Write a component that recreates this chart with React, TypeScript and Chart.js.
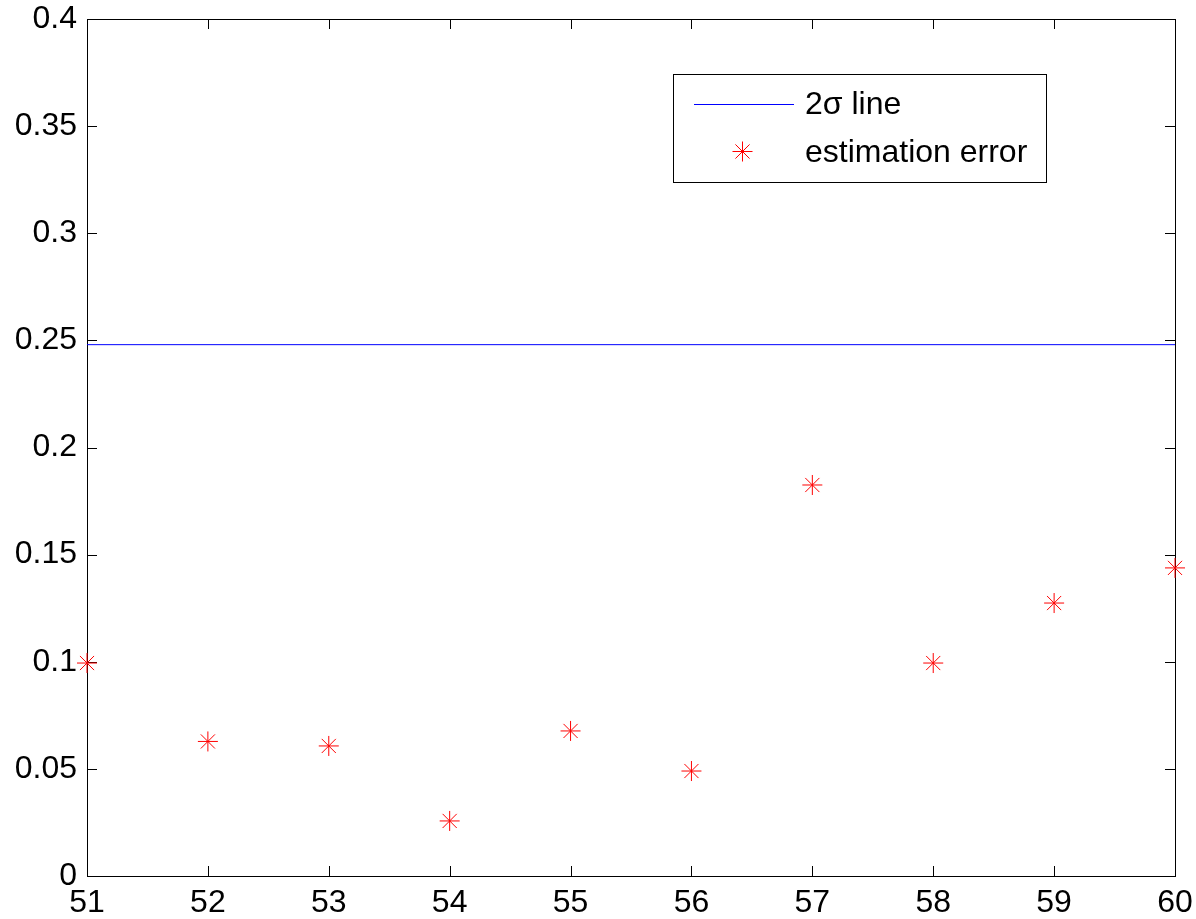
import React, { useEffect, useRef } from "react";
import { Chart, registerables } from "chart.js";

Chart.register(...registerables);

// Sample indices and estimation error at each sample
const samples = [51, 52, 53, 54, 55, 56, 57, 58, 59, 60];
const estimationError = [0.0994, 0.0628, 0.0607, 0.0257, 0.0677, 0.049, 0.1825, 0.0994, 0.1274, 0.1438];
// Constant 2-sigma bound
const twoSigma = 0.248;
const yTicks = [0, 0.05, 0.1, 0.15, 0.2, 0.25, 0.3, 0.35, 0.4];
const seriesLabels = ["2\u03c3 line", "estimation error"];

const FONT = "'Liberation Sans', Arial, Helvetica, sans-serif";
const FONT_SIZE = 32;

// Box around the axes with inward tick marks on all four sides
const framePlugin = {
  id: "frame",
  beforeDatasetsDraw(chart: any) {
    const { ctx, chartArea: a, scales } = chart;
    const tl = 10;
    ctx.save();
    ctx.strokeStyle = "#000";
    ctx.lineWidth = 1;
    ctx.beginPath();
    for (const v of yTicks) {
      const y = Math.round(scales.y.getPixelForValue(v)) + 0.5;
      ctx.moveTo(a.left, y);
      ctx.lineTo(a.left + tl, y);
      ctx.moveTo(a.right, y);
      ctx.lineTo(a.right - tl, y);
    }
    for (const v of samples) {
      const x = Math.round(scales.x.getPixelForValue(v)) + 0.5;
      ctx.moveTo(x, a.bottom);
      ctx.lineTo(x, a.bottom - tl);
      ctx.moveTo(x, a.top);
      ctx.lineTo(x, a.top + tl);
    }
    ctx.stroke();
    ctx.strokeRect(Math.round(a.left) + 0.5, Math.round(a.top) + 0.5, Math.round(a.right - a.left), Math.round(a.bottom - a.top));
    ctx.restore();
  },
};

// Boxed legend in the upper right of the axes
const legendPlugin = {
  id: "boxLegend",
  afterDraw(chart: any) {
    const { ctx } = chart;
    const bx = 673, by = 74, bw = 373, bh = 108;
    ctx.save();
    ctx.fillStyle = "#fff";
    ctx.fillRect(bx, by, bw, bh);
    ctx.strokeStyle = "#000";
    ctx.lineWidth = 1;
    ctx.strokeRect(bx + 0.5, by + 0.5, bw, bh);

    // line sample
    ctx.strokeStyle = "#0000ff";
    ctx.beginPath();
    ctx.moveTo(694, 104.5);
    ctx.lineTo(794, 104.5);
    ctx.stroke();

    // asterisk sample
    const cx = 742.5, cy = 151.5, r = 10, d = r * Math.SQRT1_2;
    ctx.strokeStyle = "#ff0000";
    ctx.beginPath();
    ctx.moveTo(cx - r, cy); ctx.lineTo(cx + r, cy);
    ctx.moveTo(cx, cy - r); ctx.lineTo(cx, cy + r);
    ctx.moveTo(cx - d, cy - d); ctx.lineTo(cx + d, cy + d);
    ctx.moveTo(cx - d, cy + d); ctx.lineTo(cx + d, cy - d);
    ctx.stroke();

    ctx.fillStyle = "#000";
    ctx.font = `${FONT_SIZE}px ${FONT}`;
    ctx.textBaseline = "middle";
    ctx.textAlign = "left";
    ctx.fillText(seriesLabels[0], 805, 105);
    ctx.fillText(seriesLabels[1], 805, 153);
    ctx.restore();
  },
};

export default function App() {
  const ref = useRef<HTMLCanvasElement | null>(null);

  useEffect(() => {
    if (!ref.current) return;
    const chart = new Chart(ref.current, {
      type: "scatter",
      data: {
        datasets: [
          {
            label: seriesLabels[0],
            data: [
              { x: samples[0], y: twoSigma },
              { x: samples[samples.length - 1], y: twoSigma },
            ],
            showLine: true,
            borderColor: "#0000ff",
            borderWidth: 1,
            pointRadius: 0,
            clip: false as any,
          },
          {
            label: seriesLabels[1],
            data: samples.map((x, i) => ({ x, y: estimationError[i] })),
            showLine: false,
            pointStyle: "star",
            pointRadius: 10,
            borderColor: "#ff0000",
            backgroundColor: "#ff0000",
            pointBorderWidth: 1,
            borderWidth: 1,
            clip: false as any,
          },
        ],
      },
      options: {
        animation: false,
        responsive: false,
        events: [],
        layout: { padding: { top: 19, right: 21, left: 0, bottom: 0 } },
        plugins: { legend: { display: false }, tooltip: { enabled: false } },
        scales: {
          x: {
            type: "linear",
            min: 51,
            max: 60,
            border: { display: false },
            grid: { display: false, drawTicks: false },
            afterFit: (s: any) => {
              s.height = 43;
              s.paddingLeft = 0;
              s.paddingRight = 0;
            },
            ticks: {
              stepSize: 1,
              padding: 8,
              color: "#000",
              font: { family: FONT, size: FONT_SIZE },
              maxRotation: 0,
            },
          },
          y: {
            type: "linear",
            min: 0,
            max: 0.4,
            border: { display: false },
            grid: { display: false, drawTicks: false },
            afterFit: (s: any) => {
              s.width = 87;
              s.paddingTop = 0;
              s.paddingBottom = 0;
            },
            ticks: {
              stepSize: 0.05,
              padding: 10,
              color: "#000",
              font: { family: FONT, size: FONT_SIZE },
              callback: (v: any) => String(Math.round(Number(v) * 100) / 100),
            },
          },
        },
      },
      plugins: [framePlugin, legendPlugin],
    });
    return () => chart.destroy();
  }, []);

  return (
    <div style={{ position: "fixed", left: 0, top: 0, width: 1196, height: 919, background: "#fff" }}>
      <canvas ref={ref} width={1196} height={919} style={{ display: "block" }} />
    </div>
  );
}
